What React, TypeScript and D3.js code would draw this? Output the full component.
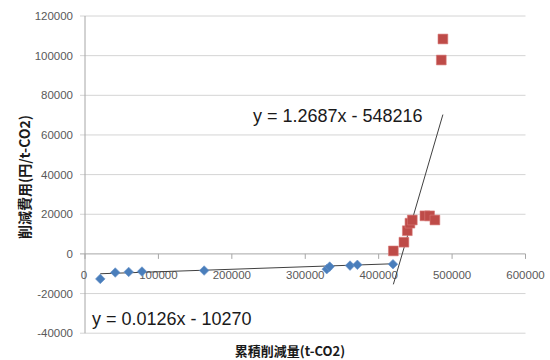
import React from "react";
import * as d3 from "d3";

// Cumulative reduction (t-CO2) and reduction cost (yen/t-CO2), low-cost group
const blueX = [20800, 41200, 59500, 77600, 162300, 329300, 333300, 361000, 371000, 419500];
const blueY = [-12600, -9400, -9100, -8900, -8400, -7700, -6400, -5900, -5500, -5200];

// High-cost group
const redX = [420000, 434400, 439000, 442600, 445800, 463000, 469400, 476600, 485300, 487500];
const redY = [1500, 5900, 11700, 15500, 17100, 19200, 19200, 17100, 97800, 108400];

// Linear trendlines: y = slope * x + intercept
const blueTrend = { slope: 0.0126, intercept: -10270, label: "y = 0.0126x - 10270" };
const redTrend = { slope: 1.2687, intercept: -548216, label: "y = 1.2687x - 548216" };

const xTicks = [0, 100000, 200000, 300000, 400000, 500000, 600000];
const yTicks = [-40000, -20000, 0, 20000, 40000, 60000, 80000, 100000, 120000];

const xTitle = "累積削減量(t-CO2)";
const yTitle = "削減費用(円/t-CO2)";

const W = 550;
const H = 360;

export default function App() {
  const x = d3.scaleLinear().domain([0, 600000]).range([85, 525.5]);
  const y = d3.scaleLinear().domain([-40000, 120000]).range([333.2, 16]);

  const blue = blueX.map((v, i) => [v, blueY[i]] as [number, number]);
  const red = redX.map((v, i) => [v, redY[i]] as [number, number]);

  const diamond = d3.symbol(d3.symbolSquare, 46)();
  const square = d3.symbol(d3.symbolSquare, 96)();

  const trendPath = (xs: number[], t: { slope: number; intercept: number }) => {
    const [lo, hi] = d3.extent(xs) as [number, number];
    return d3
      .line<number>()
      .x((d) => x(d))
      .y((d) => y(t.slope * d + t.intercept))([lo, hi]) as string;
  };

  const tickFont = "'Liberation Sans', Arial, sans-serif";
  const cjkFont = "'Noto Sans CJK JP', 'Noto Sans', sans-serif";

  return (
    <div style={{ position: "fixed", left: 0, top: 0, background: "#fff" }}>
      <svg width={W} height={H} style={{ display: "block" }}>
        <rect width={W} height={H} fill="#fff" />
        {/* horizontal gridlines */}
        {yTicks.map((t) => (
          <line
            key={"g" + t}
            x1={x(0) - 5}
            x2={x(600000)}
            y1={y(t)}
            y2={y(t)}
            stroke={t === 0 ? "#a6a6a6" : "#d4d4d4"}
            strokeWidth={1}
          />
        ))}
        {/* y axis */}
        <line x1={x(0)} x2={x(0)} y1={y(120000)} y2={y(-40000)} stroke="#a6a6a6" />
        {/* x axis tick marks on the zero line */}
        {xTicks.map((t) => (
          <line
            key={"xt" + t}
            x1={x(t)}
            x2={x(t)}
            y1={y(0)}
            y2={y(0) + 5}
            stroke="#a6a6a6"
          />
        ))}
        {/* y tick labels */}
        {yTicks.map((t) => (
          <text
            key={"yl" + t}
            x={73}
            y={y(t) + 4}
            textAnchor="end"
            fontFamily={tickFont}
            fontSize={11.5}
            fill="#595959"
          >
            {t}
          </text>
        ))}
        {/* x tick labels */}
        {xTicks.map((t) => (
          <text
            key={"xl" + t}
            x={x(t) - (t === 0 ? 1 : 0)}
            y={y(0) + 25}
            textAnchor="middle"
            fontFamily={tickFont}
            fontSize={11.5}
            fill="#595959"
          >
            {t}
          </text>
        ))}
        {/* trendlines */}
        <path d={trendPath(blueX, blueTrend)} stroke="#404040" strokeWidth={1} fill="none" />
        <path d={trendPath(redX, redTrend)} stroke="#404040" strokeWidth={1} fill="none" />
        {/* points */}
        {blue.map(([a, b], i) => (
          <path
            key={"b" + i}
            d={diamond}
            transform={`translate(${x(a)},${y(b)}) rotate(45)`}
            fill="#4a7ebb"
            stroke="#6b96cc"
            strokeWidth={0.6}
          />
        ))}
        {red.map(([a, b], i) => (
          <path
            key={"r" + i}
            d={square}
            transform={`translate(${x(a)},${y(b)})`}
            fill="#be4b48"
            stroke="#d97a78"
            strokeWidth={0.6}
          />
        ))}
        {/* trendline equations */}
        <text x={253} y={122} fontFamily={tickFont} fontSize={18} fill="#1a1a1a">
          {redTrend.label}
        </text>
        <text x={92} y={325} fontFamily={tickFont} fontSize={18} fill="#1a1a1a">
          {blueTrend.label}
        </text>
        {/* axis titles */}
        <text
          x={290}
          y={356}
          textAnchor="middle"
          fontFamily={cjkFont}
          fontWeight="bold"
          fontSize={13}
          fill="#1a1a1a"
        >
          {xTitle}
        </text>
        <text
          transform={`translate(30,177) rotate(-90)`}
          textAnchor="middle"
          fontFamily={cjkFont}
          fontWeight="bold"
          fontSize={14}
          fill="#1a1a1a"
        >
          {yTitle}
        </text>
      </svg>
    </div>
  );
}
